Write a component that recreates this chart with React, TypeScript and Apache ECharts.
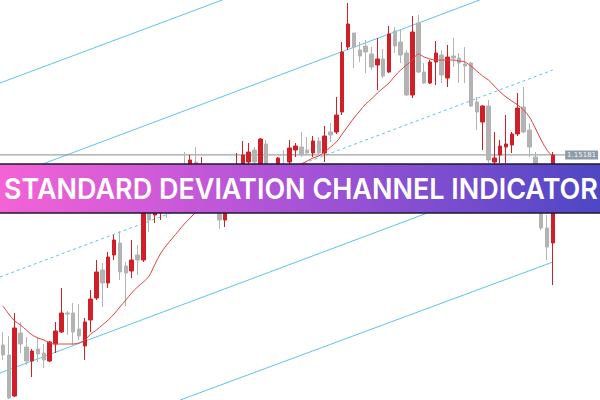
import React, { useEffect, useRef } from "react";
import * as echarts from "echarts";

// Candles: [open, close, low, high]
const candles: number[][] = [
  [1.1328, 1.1318, 1.1313, 1.1341],
  [1.1318, 1.1275, 1.1274, 1.1337],
  [1.1277, 1.1345, 1.1276, 1.1360],
  [1.1340, 1.1329, 1.1320, 1.1351],
  [1.1326, 1.1312, 1.1308, 1.1336],
  [1.1312, 1.1322, 1.1296, 1.1324],
  [1.1324, 1.1319, 1.1311, 1.1335],
  [1.1320, 1.1313, 1.1305, 1.1329],
  [1.1312, 1.1331, 1.1311, 1.1332],
  [1.1329, 1.1342, 1.1320, 1.1351],
  [1.1341, 1.1360, 1.1340, 1.1385],
  [1.1360, 1.1359, 1.1338, 1.1362],
  [1.1360, 1.1341, 1.1328, 1.1370],
  [1.1344, 1.1337, 1.1333, 1.1369],
  [1.1327, 1.1351, 1.1313, 1.1355],
  [1.1353, 1.1374, 1.1341, 1.1383],
  [1.1375, 1.1401, 1.1373, 1.1413],
  [1.1403, 1.1390, 1.1366, 1.1410],
  [1.1390, 1.1416, 1.1385, 1.1421],
  [1.1418, 1.1433, 1.1413, 1.1438],
  [1.1430, 1.1401, 1.1393, 1.1442],
  [1.1407, 1.1400, 1.1367, 1.1411],
  [1.1402, 1.1413, 1.1395, 1.1433],
  [1.1418, 1.1413, 1.1398, 1.1428],
  [1.1413, 1.1463, 1.1411, 1.1473],
  [1.1461, 1.1453, 1.1441, 1.1468],
  [1.1458, 1.1473, 1.1450, 1.1478],
  [1.1468, 1.1483, 1.1453, 1.1488],
  [1.1481, 1.1473, 1.1455, 1.1493],
  [1.1477, 1.1495, 1.1473, 1.1501],
  [1.1491, 1.1503, 1.1483, 1.1508],
  [1.1505, 1.1493, 1.1488, 1.1521],
  [1.1501, 1.1513, 1.1495, 1.1518],
  [1.1511, 1.1495, 1.1491, 1.1526],
  [1.1493, 1.1503, 1.1488, 1.1516],
  [1.1498, 1.1478, 1.1473, 1.1503],
  [1.1483, 1.1468, 1.1463, 1.1488],
  [1.1473, 1.1453, 1.1444, 1.1478],
  [1.1453, 1.1483, 1.1446, 1.1488],
  [1.1481, 1.1498, 1.1477, 1.1503],
  [1.1493, 1.1505, 1.1488, 1.1520],
  [1.1501, 1.1518, 1.1498, 1.1532],
  [1.1511, 1.1521, 1.1505, 1.1530],
  [1.1523, 1.1511, 1.1503, 1.1526],
  [1.1503, 1.1534, 1.1501, 1.1535],
  [1.1529, 1.1498, 1.1493, 1.1533],
  [1.1503, 1.1488, 1.1483, 1.1508],
  [1.1498, 1.1515, 1.1493, 1.1516],
  [1.1505, 1.1495, 1.1491, 1.1523],
  [1.1511, 1.1525, 1.1503, 1.1533],
  [1.1523, 1.1527, 1.1516, 1.1530],
  [1.1526, 1.1518, 1.1516, 1.1541],
  [1.1523, 1.1520, 1.1518, 1.1536],
  [1.1520, 1.1532, 1.1516, 1.1537],
  [1.1532, 1.1520, 1.1518, 1.1536],
  [1.1520, 1.1537, 1.1511, 1.1547],
  [1.1541, 1.1538, 1.1531, 1.1550],
  [1.1541, 1.1558, 1.1539, 1.1576],
  [1.1561, 1.1621, 1.1558, 1.1631],
  [1.1626, 1.1649, 1.1623, 1.1670],
  [1.1640, 1.1626, 1.1605, 1.1640],
  [1.1623, 1.1617, 1.1611, 1.1631],
  [1.1627, 1.1621, 1.1600, 1.1633],
  [1.1619, 1.1606, 1.1603, 1.1626],
  [1.1608, 1.1614, 1.1583, 1.1635],
  [1.1614, 1.1597, 1.1595, 1.1624],
  [1.1601, 1.1639, 1.1600, 1.1647],
  [1.1642, 1.1627, 1.1620, 1.1646],
  [1.1631, 1.1618, 1.1610, 1.1643],
  [1.1620, 1.1578, 1.1577, 1.1623],
  [1.1578, 1.1641, 1.1575, 1.1657],
  [1.1650, 1.1601, 1.1600, 1.1658],
  [1.1601, 1.1590, 1.1589, 1.1610],
  [1.1590, 1.1611, 1.1589, 1.1613],
  [1.1611, 1.1620, 1.1588, 1.1632],
  [1.1618, 1.1598, 1.1590, 1.1623],
  [1.1595, 1.1616, 1.1586, 1.1628],
  [1.1617, 1.1615, 1.1606, 1.1635],
  [1.1615, 1.1610, 1.1590, 1.1620],
  [1.1609, 1.1607, 1.1590, 1.1626],
  [1.1610, 1.1567, 1.1566, 1.1611],
  [1.1571, 1.1561, 1.1543, 1.1576],
  [1.1551, 1.1567, 1.1523, 1.1568],
  [1.1567, 1.1513, 1.1510, 1.1573],
  [1.1511, 1.1515, 1.1508, 1.1541],
  [1.1518, 1.1527, 1.1510, 1.1533],
  [1.1526, 1.1529, 1.1510, 1.1558],
  [1.1528, 1.1539, 1.1520, 1.1541],
  [1.1539, 1.1565, 1.1537, 1.1580],
  [1.1566, 1.1541, 1.1540, 1.1586],
  [1.1543, 1.1526, 1.1516, 1.1550],
  [1.1516, 1.1488, 1.1483, 1.1521],
  [1.1478, 1.1445, 1.1443, 1.1483],
  [1.1445, 1.1426, 1.1413, 1.1458],
  [1.1430, 1.1518, 1.1388, 1.1521],
];

// Moving average, one value per candle
const maValues: number[] = [
  1.1367, 1.1359, 1.1352, 1.1348, 1.1343, 1.1338, 1.1335, 1.1333, 1.1330, 1.1329,
  1.1329, 1.1329, 1.1329, 1.1330, 1.1333, 1.1339, 1.1343, 1.1348, 1.1353, 1.1359,
  1.1366, 1.1373, 1.1380, 1.1386, 1.1391, 1.1397, 1.1409, 1.1420, 1.1428, 1.1435,
  1.1442, 1.1449, 1.1455, 1.1461, 1.1466, 1.1471, 1.1475, 1.1478, 1.1481, 1.1483,
  1.1485, 1.1487, 1.1490, 1.1492, 1.1494, 1.1496, 1.1498, 1.1500, 1.1502, 1.1505,
  1.1507, 1.1509, 1.1512, 1.1515, 1.1517, 1.1521, 1.1526, 1.1531, 1.1539, 1.1547,
  1.1555, 1.1562, 1.1569, 1.1574, 1.1580, 1.1585, 1.1590, 1.1597, 1.1603, 1.1608,
  1.1613, 1.1619, 1.1616, 1.1614, 1.1613, 1.1613, 1.1613, 1.1613, 1.1612, 1.1611,
  1.1607, 1.1602, 1.1597, 1.1593, 1.1587, 1.1581, 1.1576, 1.1572, 1.1568, 1.1563,
  1.1556, 1.1545, 1.1533, 1.1523, 1.1516,
];

const slotCount = 100;
const categories: string[] = Array.from({ length: slotCount }, (_, i) => String(i + 1));

// Channel lines: [[barIndex, price], [barIndex, price]]
const channelTop: number[][] = [[-0.5, 1.1590], [37.5, 1.1673]];
const channelUpper: number[][] = [[-0.5, 1.1493], [81.5, 1.1673]];
const channelMiddle: number[][] = [[-0.5, 1.1396], [94, 1.1603]];
const channelLower: number[][] = [[-0.5, 1.1300], [94, 1.1507]];
const channelBottom: number[][] = [[30.3, 1.1273], [94, 1.1411]];

// Current price level line: [[barIndex, price], [barIndex, price]]
const priceLine: number[][] = [[-0.5, 1.15181], [96.1, 1.15181]];
const priceLabel = "1.15181";
const title = "STANDARD DEVIATION CHANNEL INDICATOR";

const RED = "#d01f27";
const GRAY = "#b3b3b3";
const BLUE = "#5ec3e9";

export default function App() {
  const ref = useRef<HTMLDivElement>(null);
  useEffect(() => {
    if (!ref.current) return;
    const chart = echarts.init(ref.current, undefined, { renderer: "svg" });
    const chLine = (data: number[][], dashed = false) => ({
      type: "line",
      xAxisIndex: 1,
      yAxisIndex: 0,
      data,
      symbol: "none",
      silent: true,
      clip: true,
      lineStyle: { color: BLUE, width: 1, type: dashed ? [3, 3] : "solid" },
      z: 1,
    });
    chart.setOption({
      animation: false,
      backgroundColor: "#ffffff",
      grid: { left: 0, right: 15, top: 0, bottom: 0 },
      xAxis: [
        { type: "category", data: categories, show: false, boundaryGap: true },
        { type: "value", min: -0.5, max: slotCount - 0.5, show: false },
      ],
      yAxis: { type: "value", min: 1.1273, max: 1.1673, show: false },
      series: [
        chLine(channelTop),
        chLine(channelUpper),
        chLine(channelMiddle, true),
        chLine(channelLower),
        chLine(channelBottom),
        {
          type: "line",
          xAxisIndex: 1,
          yAxisIndex: 0,
          data: priceLine,
          symbol: "none",
          silent: true,
          z: 2,
          lineStyle: { color: "#8a8a8a", width: 1 },
          endLabel: {
            show: true,
            formatter: priceLabel,
            distance: 0,
            color: "#f4f6f8",
            backgroundColor: "#8e9ca8",
            fontSize: 7,
            fontFamily: "DejaVu Sans",
            padding: [1, 2, 1, 2],
          },
        },
        {
          type: "candlestick",
          data: candles,
          barWidth: 4,
          z: 3,
          itemStyle: {
            color: RED,
            color0: GRAY,
            borderColor: RED,
            borderColor0: GRAY,
            borderWidth: 1,
          },
        },
        {
          type: "line",
          data: maValues,
          symbol: "none",
          smooth: 0.3,
          z: 4,
          lineStyle: { color: "#e3413f", width: 1 },
        },
      ],
      graphic: [
        {
          type: "rect",
          z: 100,
          shape: { x: -2, y: 164, width: 604, height: 49 },
          style: {
            fill: new echarts.graphic.LinearGradient(0, 0, 1, 0, [
              { offset: 0, color: "#f463d6" },
              { offset: 0.25, color: "#d15ad8" },
              { offset: 0.5, color: "#a753d7" },
              { offset: 0.75, color: "#7a4dcf" },
              { offset: 1, color: "#4c47c4" },
            ]),
            stroke: "#1e1a2c",
            lineWidth: 1.5,
          },
        },
        {
          type: "text",
          z: 101,
          x: 4,
          y: 189,
          scaleX: 0.93,
          style: {
            text: title,
            fill: "#ffffff",
            font: "600 29px Inter",
            verticalAlign: "middle",
            align: "left",
          },
        },
      ],
    });
    return () => chart.dispose();
  }, []);
  return (
    <div
      ref={ref}
      style={{ position: "fixed", left: 0, top: 0, width: 600, height: 400 }}
    />
  );
}
